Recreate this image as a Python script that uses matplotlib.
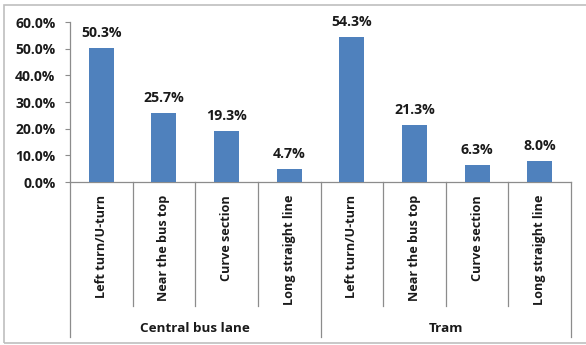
import matplotlib
matplotlib.use("Agg")
import matplotlib.pyplot as plt
from matplotlib.patches import Rectangle
import matplotlib.transforms as mtransforms

groups = ["Central bus lane", "Tram"]
categories = ["Left turn/U-turn", "Near the bus top", "Curve section", "Long straight line"]
central_bus_lane = [50.3, 25.7, 19.3, 4.7]
tram = [54.3, 21.3, 6.3, 8.0]
y_ticks = [0, 10, 20, 30, 40, 50, 60]

plt.rcParams["font.family"] = ["Open Sans", "DejaVu Sans"]
plt.rcParams["font.weight"] = "bold"

bar_color = "#4F81BD"
axis_color = "#8C8C8C"
text_color = "#1A1A1A"

values = central_bus_lane + tram
labels = categories + categories
xs = list(range(len(values)))

fig = plt.figure(figsize=(5.86, 3.45), dpi=100)
W, H = 586, 345
ax = fig.add_axes([70 / W, 1 - 182 / H, (571 - 70) / W, 160 / H])

# outer chart frame
fig.patches.append(Rectangle((4 / W, 2 / H), 1.2, 1 - 7 / H, transform=fig.transFigure,
                             fill=False, edgecolor="#BFBFBF", linewidth=1.2, clip_on=False))

ax.bar(xs, values, width=0.4, color=bar_color, zorder=3)
ax.set_xlim(-0.5, len(values) - 0.5)
ax.set_ylim(0, 60)
ax.set_yticks(y_ticks)
ax.set_yticklabels([f"{t:.1f}%" for t in y_ticks], fontsize=10, fontweight="bold", color=text_color)
ax.tick_params(axis="y", direction="out", length=3.6, width=0.8, color=axis_color, pad=7)
ax.set_xticks([])

for s in ["top", "right"]:
    ax.spines[s].set_visible(False)
for s in ["left", "bottom"]:
    ax.spines[s].set_color(axis_color)
    ax.spines[s].set_linewidth(0.9)

for x, v in zip(xs, values):
    ax.annotate(f"{v:.1f}%", (x, v), xytext=(0, 10.8), textcoords="offset points",
                ha="center", va="center", fontsize=10.2, fontweight="bold", color=text_color)

trans = mtransforms.blended_transform_factory(ax.transData, ax.transAxes)

# category separators and labels below the axis
n_per = len(categories)
for i in range(len(values) + 1):
    bx = i - 0.5
    bottom = -0.969 if i % n_per == 0 else -0.775
    ax.plot([bx, bx], [0, bottom], transform=trans, color=axis_color, lw=0.9, clip_on=False)

for x, lab in zip(xs, labels):
    ax.text(x, -0.081, lab, transform=trans, rotation=90, ha="center", va="top",
            fontsize=9.1, fontweight="bold", color=text_color)

for g, name in enumerate(groups):
    cx = g * n_per + (n_per - 1) / 2
    ax.text(cx, -0.9125, name, transform=trans, ha="center", va="center",
            fontsize=9.7, fontweight="bold", color=text_color)

fig.savefig("out.png", dpi=100)
